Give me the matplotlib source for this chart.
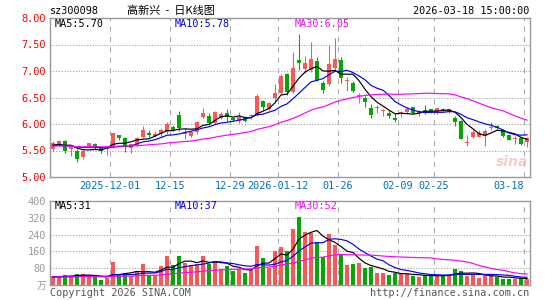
import matplotlib
matplotlib.use('Agg')
import matplotlib.pyplot as plt
import numpy as np
import pandas as pd

# daily candles, 80 sessions (2025-11-17 .. 2026-03-18)
open_ = [5.53, 5.62, 5.68, 5.53, 5.50, 5.37, 5.59, 5.63, 5.54, 5.52,
         5.58, 5.79, 5.74, 5.55, 5.60, 5.76, 5.83, 5.78, 5.82, 5.84,
         5.95, 6.17, 5.82, 5.77, 5.84, 6.14, 6.15, 6.02, 6.11, 6.21,
         6.12, 6.06, 6.11, 6.16, 6.17, 6.43, 6.28, 6.50, 6.59, 6.94,
         6.61, 7.21, 7.03, 7.02, 7.19, 6.77, 6.75, 7.06, 7.21, 6.81,
         6.77, 6.52, 6.50, 6.30, 6.30, 6.24, 6.21, 6.11, 6.20, 6.22,
         6.32, 6.20, 6.27, 6.28, 6.22, 6.29, 6.23, 6.12, 6.06, 5.64,
         5.75, 5.76, 5.78, 5.93, 5.96, 5.89, 5.79, 5.72, 5.74, 5.66]
high = [5.67, 5.70, 5.69, 5.58, 5.52, 5.53, 5.65, 5.65, 5.56, 5.58,
        5.84, 5.80, 5.75, 5.63, 5.76, 5.96, 5.89, 5.86, 5.92, 6.04,
        5.98, 6.25, 5.92, 5.87, 6.06, 6.30, 6.21, 6.24, 6.22, 6.28,
        6.14, 6.23, 6.15, 6.19, 6.57, 6.45, 6.41, 6.75, 6.94, 6.96,
        7.35, 7.70, 7.29, 7.55, 7.27, 6.81, 7.50, 7.62, 7.26, 6.89,
        6.81, 6.58, 6.53, 6.38, 6.36, 6.28, 6.26, 6.20, 6.25, 6.33,
        6.33, 6.26, 6.35, 6.29, 6.31, 6.31, 6.30, 6.16, 6.08, 5.80,
        5.90, 5.88, 5.90, 6.04, 5.99, 5.91, 5.80, 5.77, 5.76, 5.76]
low = [5.49, 5.58, 5.46, 5.40, 5.29, 5.34, 5.57, 5.51, 5.46, 5.42,
       5.55, 5.69, 5.48, 5.46, 5.58, 5.74, 5.75, 5.75, 5.76, 5.82,
       5.86, 5.87, 5.72, 5.76, 5.82, 6.11, 5.99, 6.00, 6.09, 6.06,
       6.05, 6.02, 6.03, 6.10, 6.15, 6.27, 6.26, 6.44, 6.57, 6.55,
       6.58, 7.02, 6.97, 6.99, 6.81, 6.59, 6.72, 7.02, 6.77, 6.62,
       6.60, 6.39, 6.33, 6.11, 6.20, 6.16, 6.12, 6.04, 6.14, 6.19,
       6.19, 6.16, 6.19, 6.21, 6.19, 6.23, 6.21, 5.97, 5.71, 5.59,
       5.74, 5.75, 5.59, 5.89, 5.90, 5.76, 5.69, 5.62, 5.60, 5.57]
close = [5.65, 5.67, 5.50, 5.57, 5.34, 5.50, 5.64, 5.56, 5.49, 5.56,
         5.83, 5.74, 5.57, 5.62, 5.74, 5.89, 5.79, 5.82, 5.88, 6.00,
         5.89, 5.92, 5.85, 5.85, 6.04, 6.21, 6.01, 6.23, 6.19, 6.14,
         6.08, 6.13, 6.06, 6.17, 6.53, 6.32, 6.39, 6.59, 6.91, 6.61,
         7.06, 7.16, 7.15, 7.23, 6.83, 6.64, 7.13, 7.23, 6.87, 6.83,
         6.63, 6.53, 6.42, 6.17, 6.31, 6.26, 6.15, 6.07, 6.22, 6.28,
         6.21, 6.24, 6.25, 6.22, 6.30, 6.27, 6.28, 6.04, 5.72, 5.66,
         5.84, 5.83, 5.87, 5.95, 5.92, 5.77, 5.70, 5.73, 5.62, 5.73]
# volume, 10k shares
volume = [43, 43, 46, 41, 51, 54, 43, 38, 22, 35,
          108, 46, 59, 43, 67, 99, 49, 46, 92, 140,
          94, 137, 104, 94, 102, 137, 102, 113, 78, 89,
          65, 78, 57, 70, 185, 129, 83, 161, 179, 161,
          267, 326, 254, 246, 205, 131, 242, 192, 146, 94,
          100, 104, 81, 84, 56, 59, 46, 59, 52, 52,
          43, 38, 46, 46, 46, 46, 46, 78, 68, 43,
          52, 33, 46, 46, 36, 29, 30, 30, 34, 30]

# sessions before the window, only used for the moving averages
prev_close = [5.62, 5.58, 5.55, 5.60, 5.64, 5.57, 5.53, 5.56, 5.61, 5.59,
              5.54, 5.57, 5.63, 5.60, 5.56, 5.52, 5.58, 5.61, 5.57, 5.55,
              5.60, 5.62, 5.58, 5.54, 5.57, 5.60, 5.59, 5.56, 5.61]
prev_vol = [35, 42, 38, 30, 45, 40, 36, 33, 41, 39,
            37, 44, 35, 32, 40, 38, 36, 42, 34, 39,
            41, 37, 35, 43, 38, 36, 40, 34, 39]

tick_labels = ['2025-12-01', '12-15', '12-29', '2026-01-12', '01-26',
               '02-09', '02-25', '03-18']
tick_pos = [10, 20, 30, 38, 48, 58, 64, 79]

RED = '#ff5555'
GREEN = '#00a800'
GRID = '#aaaaaa'
MONO = 'DejaVu Sans Mono'

n = len(close)
x = np.arange(n) + 0.5


def ma(prev, vals, k):
    s = pd.Series(prev + vals, dtype=float).rolling(k).mean()
    return s.iloc[len(prev):].to_numpy()


fig = plt.figure(figsize=(5.45, 3.0), dpi=100)
W, H = 545.0, 300.0
ax1 = fig.add_axes([50 / W, 1 - 177 / H, 480 / W, 159 / H])
ax2 = fig.add_axes([50 / W, 1 - 285 / H, 480 / W, 84 / H])

for ax in (ax1, ax2):
    ax.set_xlim(0, n)
    for sp in ax.spines.values():
        sp.set_color('#999999')
        sp.set_linewidth(1.0)
    ax.set_xticks([])
    ax.tick_params(axis='y', length=0, pad=3)
    for p in tick_pos:
        ax.axvline(p, color=GRID, lw=0.75, dashes=(5, 5), zorder=0)

# price panel
ax1.set_ylim(5, 8)
for v in [5.5, 6.0, 6.5, 7.0, 7.5]:
    ax1.axhline(v, color=GRID, lw=0.75, dashes=(1.2, 1.5), zorder=0)
ax1.set_yticks([5, 5.5, 6, 6.5, 7, 7.5, 8])
ax1.set_yticklabels(['%.2f' % v for v in [5, 5.5, 6, 6.5, 7, 7.5, 8]],
                    color='#ff0000', fontsize=7.4, family=MONO)

cols = [RED if c >= o else GREEN for o, c in zip(open_, close)]
ax1.vlines(x, low, high, colors=cols, lw=0.75, zorder=2)
body_lo = np.minimum(open_, close)
body_h = np.maximum(np.abs(np.array(close) - np.array(open_)), 0.018)
ax1.bar(x, body_h, bottom=body_lo, width=0.8, color=cols, lw=0, zorder=3)

ax1.plot(x, ma(prev_close, close, 5), color='black', lw=0.85, zorder=4)
ax1.plot(x, ma(prev_close, close, 10), color='#0000ff', lw=0.85, zorder=4)
ax1.plot(x, ma(prev_close, close, 30), color='#ff00ff', lw=0.85, zorder=4)

# volume panel
ax2.set_ylim(0, 400)
for v in [80, 160, 240, 320]:
    ax2.axhline(v, color=GRID, lw=0.75, dashes=(1.2, 1.5), zorder=0)
ax2.set_yticks([80, 160, 240, 320, 400])
ax2.set_yticklabels(['80', '160', '240', '320', '400'],
                    color='#999999', fontsize=7.4, family=MONO)
ax2.bar(x, volume, width=0.82, color=cols, lw=0, zorder=2)
ax2.plot(x, ma(prev_vol, volume, 5), color='black', lw=0.85, zorder=4)
ax2.plot(x, ma(prev_vol, volume, 10), color='#0000ff', lw=0.85, zorder=4)
ax2.plot(x, ma(prev_vol, volume, 30), color='#ff00ff', lw=0.85, zorder=4)


def ftext(px, py, s, **kw):
    fig.text(px / W, 1 - py / H, s, va='center', **kw)


# header
ftext(50, 11, 'sz300098', ha='left', fontsize=7.3, family=MONO)
ftext(171, 11, '高新兴  -  日K线图', ha='center', fontsize=8,
      family=['Noto Sans CJK SC', 'DejaVu Sans'])
ftext(529, 11, '2026-03-18 15:00:00', ha='right', fontsize=7.3, family=MONO)

# legends
ma_p = [('MA5:5.70', 'black'), ('MA10:5.78', '#0000ff'), ('MA30:6.05', '#ff00ff')]
ma_v = [('MA5:31', 'black'), ('MA10:37', '#0000ff'), ('MA30:52', '#ff00ff')]
for k, (s, c) in enumerate(ma_p):
    ftext(55 + 120 * k, 24, s, ha='left', color=c, fontsize=7.3, family=MONO)
for k, (s, c) in enumerate(ma_v):
    ftext(55 + 120 * k, 206, s, ha='left', color=c, fontsize=7.3, family=MONO)

# date labels
for p, lab in zip(tick_pos, tick_labels):
    ha = 'right' if p == tick_pos[-1] else 'center'
    ftext(50 + 6 * p, 186, lab, ha=ha, color='#0070c0', fontsize=7.3, family=MONO)

ftext(46, 286, '万', ha='right', color='#999999', fontsize=7,
      family=['Noto Sans CJK SC', 'DejaVu Sans'])
ftext(50, 293, 'Copyright 2026 SINA.COM', ha='left', color='#555555',
      fontsize=7.3, family=MONO)
ftext(529, 293, 'http://finance.sina.com.cn', ha='right', color='#555555',
      fontsize=7.3, family=MONO)
ftext(512, 162, 'sina', ha='center', color='#f0b8b8', fontsize=10,
      fontweight='bold', style='italic', alpha=0.7)

fig.savefig('out.png', dpi=100)
